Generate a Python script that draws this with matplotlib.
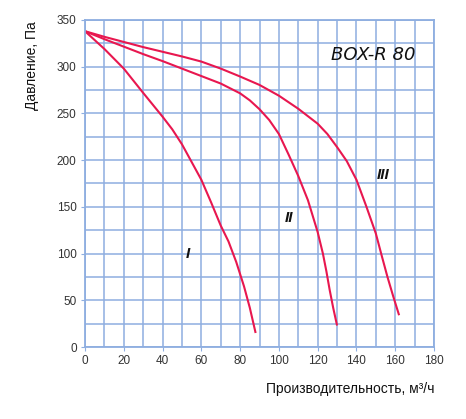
import matplotlib
matplotlib.use("Agg")
import matplotlib.pyplot as plt
from matplotlib.ticker import MultipleLocator

# Data
curve1_x = [0, 10, 20, 30, 40, 45, 50, 55, 60, 65, 70, 74, 78, 82, 85, 88]
curve1_y = [338, 319, 298, 272, 246.5, 233, 217, 198, 179, 155, 130, 113, 91, 65, 42, 15]
curve2_x = [0, 10, 20, 30, 40, 50, 60, 70, 80, 85, 90, 95, 100, 105, 110, 115, 120, 122.7, 124.5, 126.2, 128, 130]
curve2_y = [338, 329.5, 321.5, 313.5, 306, 298, 290, 282, 271.5, 264, 254.5, 243, 228, 206, 183, 157, 123, 100, 81, 61, 42, 23]
curve3_x = [0, 10, 20, 30, 40, 50, 60, 70, 80, 90, 100, 110, 120, 125, 130, 135, 140, 145, 150, 153, 156, 159, 162]
curve3_y = [338, 332, 326.5, 321, 316, 311, 305.5, 298, 289.5, 280.5, 269, 255, 239, 228, 214, 199, 179, 151, 121.5, 98, 75, 54, 34]
curve_labels = ["I", "II", "III"]
label_x = [53, 105, 154]
label_y = [100, 138, 184]
title_text = "BOX-R 80"
xlabel = "Производительность, м³/ч"
ylabel = "Давление, Па"
xticks = [0, 20, 40, 60, 80, 100, 120, 140, 160, 180]
yticks = [0, 50, 100, 150, 200, 250, 300, 350]

plt.rcParams['font.family'] = ['Liberation Sans', 'DejaVu Sans']

fig = plt.figure(figsize=(4.66, 4.19), dpi=100)
ax = fig.add_axes([85/466, 1-347/419, (434-85)/466, (347-20)/419])

grid_c = '#8eaee0'
red = '#e8174f'

ax.set_xlim(0, 180)
ax.set_ylim(0, 350)
ax.xaxis.set_major_locator(plt.FixedLocator(xticks))
ax.yaxis.set_major_locator(plt.FixedLocator(yticks))
ax.xaxis.set_minor_locator(MultipleLocator(10))
ax.yaxis.set_minor_locator(MultipleLocator(25))
ax.grid(which='both', color=grid_c, linewidth=1.1)
ax.set_axisbelow(True)
for s in ax.spines.values():
    s.set_color(grid_c)
    s.set_linewidth(1.3)
ax.tick_params(which='major', length=3, color=grid_c, labelsize=8.5, labelcolor='#333333', pad=3)
ax.tick_params(which='minor', length=0)

for xs, ys in [(curve1_x, curve1_y), (curve2_x, curve2_y), (curve3_x, curve3_y)]:
    ax.plot(xs, ys, color=red, linewidth=1.5, solid_capstyle='butt', solid_joinstyle='round')

for t, x, y in zip(curve_labels, label_x, label_y):
    ax.text(x, y, t, ha='center', va='center', fontsize=11, fontstyle='italic',
            fontweight='bold', color='#111111')

ax.text(148.5, 312.5, title_text, ha='center', va='center', fontsize=13,
        fontstyle='italic', color='#111111', family=['DejaVu Sans'])

fig.text(32/466, 1-66/419, ylabel, rotation=90, ha='center', va='center',
         fontsize=10, color='#111111')
fig.text(434/466, 1-389/419, xlabel, ha='right', va='center', fontsize=10,
         color='#111111')

fig.savefig('out.png', dpi=100)
